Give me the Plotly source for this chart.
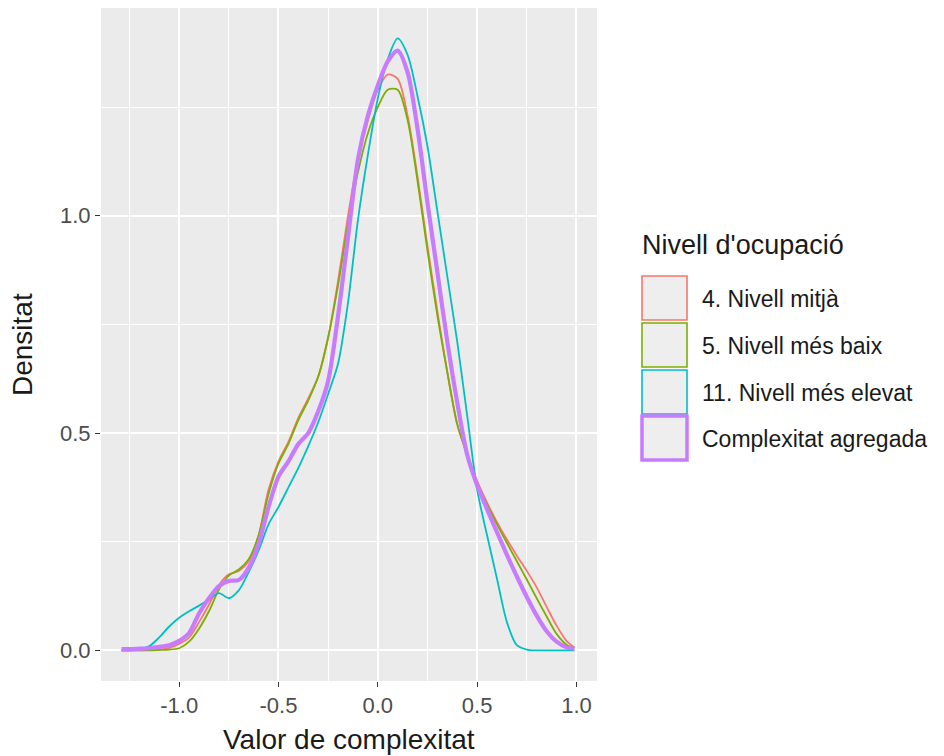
import plotly.graph_objects as go

# Shared x grid (Valor de complexitat)
x_vals = [-1.29, -1.25, -1.2, -1.15, -1.1, -1.05, -1.0, -0.95, -0.9, -0.85, -0.8,
          -0.75, -0.7, -0.65, -0.6, -0.55, -0.5, -0.45, -0.4, -0.35, -0.3, -0.25,
          -0.2, -0.15, -0.1, -0.05, 0.0, 0.05, 0.1, 0.15, 0.2, 0.25, 0.3, 0.35,
          0.4, 0.45, 0.5, 0.55, 0.6, 0.65, 0.7, 0.75, 0.8, 0.85, 0.9, 0.95, 0.99]

# Densities
dens_mitja = [0.0, 0.0, 0.0, 0.001, 0.002, 0.006, 0.015, 0.03, 0.065, 0.105, 0.15,
              0.175, 0.183, 0.205, 0.265, 0.37, 0.435, 0.48, 0.535, 0.58, 0.63, 0.72,
              0.85, 1.0, 1.13, 1.22, 1.29, 1.325, 1.315, 1.23, 1.09, 0.93, 0.78, 0.64,
              0.52, 0.45, 0.39, 0.34, 0.295, 0.255, 0.218, 0.183, 0.145, 0.1, 0.057, 0.022, 0.007]

dens_baix = [0.0, 0.0, 0.0, 0.0, 0.001, 0.002, 0.005, 0.02, 0.05, 0.09, 0.14,
             0.172, 0.186, 0.21, 0.265, 0.36, 0.43, 0.475, 0.53, 0.575, 0.63, 0.72,
             0.84, 0.98, 1.1, 1.19, 1.25, 1.29, 1.29, 1.22, 1.08, 0.92, 0.77, 0.64,
             0.52, 0.45, 0.385, 0.335, 0.29, 0.247, 0.205, 0.163, 0.12, 0.078, 0.038, 0.013, 0.005]

dens_elevat = [0.0, 0.0, 0.003, 0.01, 0.03, 0.055, 0.075, 0.09, 0.103, 0.117, 0.132,
               0.12, 0.138, 0.18, 0.23, 0.29, 0.33, 0.375, 0.42, 0.47, 0.525, 0.59,
               0.66, 0.8, 0.99, 1.14, 1.27, 1.36, 1.408, 1.37, 1.275, 1.16, 1.01, 0.86,
               0.71, 0.54, 0.37, 0.265, 0.165, 0.065, 0.012, 0.002, 0.0, 0.0, 0.0, 0.0, 0.0]

dens_agregada = [0.003, 0.003, 0.004, 0.005, 0.008, 0.012, 0.022, 0.04, 0.085, 0.12, 0.148,
                 0.16, 0.162, 0.19, 0.245, 0.33, 0.4, 0.435, 0.475, 0.5, 0.55, 0.62,
                 0.77, 0.95, 1.13, 1.23, 1.3, 1.355, 1.38, 1.33, 1.2, 1.03, 0.87, 0.71,
                 0.57, 0.45, 0.38, 0.325, 0.272, 0.22, 0.17, 0.123, 0.08, 0.044, 0.02, 0.007, 0.004]

series_names = ["4. Nivell mitjà", "5. Nivell més baix", "11. Nivell més elevat",
                "Complexitat agregada"]
series_vals = [dens_mitja, dens_baix, dens_elevat, dens_agregada]
colors = ["#F8766D", "#7CAE00", "#00BFC4", "#C77CFF"]
widths = [1.8, 1.8, 1.8, 4.2]

x_ticks = [-1.0, -0.5, 0.0, 0.5, 1.0]
x_ticktext = ["-1.0", "-0.5", "0.0", "0.5", "1.0"]
y_ticks = [0.0, 0.5, 1.0]
y_ticktext = ["0.0", "0.5", "1.0"]

FONT = "Liberation Sans, Arial, sans-serif"

fig = go.Figure()
for name, vals, col, w in zip(series_names, series_vals, colors, widths):
    fig.add_trace(go.Scatter(x=x_vals, y=vals, mode="lines", name=name,
                             line=dict(color=col, width=w, shape="spline", smoothing=0.8),
                             showlegend=False, hoverinfo="skip"))

# The page body has an 8px margin: work in page pixels, offset into the figure
OFF = 8
W, H = 944 - OFF, 756 - OFF
plot_l, plot_r, plot_t, plot_b = 101, 597, 8, 681   # page pixels of panel
ml = plot_l - OFF
mr = W - (plot_r - OFF)
mt = plot_t - OFF
mb = H - (plot_b - OFF)
pw, ph = W - ml - mr, H - mt - mb

def px(xp):
    return (xp - plot_l) / pw

def py(yp):
    return (plot_b - yp) / ph

shapes = []
annotations = []

# Legend (ggplot-style keys)
annotations.append(dict(text="Nivell d'ocupació", x=px(640), y=py(245), xref="paper",
                        yref="paper", xanchor="left", yanchor="middle", showarrow=False,
                        font=dict(family=FONT, size=27, color="#1A1A1A")))
box_tops = [276, 323, 370, 416]
box_h = 44
for name, col, top, w in zip(series_names, colors, box_tops, widths):
    lw = 3.5 if w > 3 else 1.6
    shapes.append(dict(type="rect", xref="paper", yref="paper",
                       x0=px(642), x1=px(687), y0=py(top), y1=py(top + box_h),
                       fillcolor="#EEEEEE", line=dict(color=col, width=lw)))
    annotations.append(dict(text=name, x=px(700), y=py(top + box_h / 2 + 1), xref="paper",
                            yref="paper", xanchor="left", yanchor="middle",
                            showarrow=False,
                            font=dict(family=FONT, size=23, color="#1A1A1A")))

# Axis titles
annotations.append(dict(text="Valor de complexitat", x=px(349), y=py(739), xref="paper",
                        yref="paper", xanchor="center", yanchor="middle", showarrow=False,
                        font=dict(family=FONT, size=28, color="#1A1A1A")))
annotations.append(dict(text="Densitat", x=px(22), y=py(345), xref="paper",
                        yref="paper", xanchor="center", yanchor="middle", showarrow=False,
                        textangle=-90,
                        font=dict(family=FONT, size=28, color="#1A1A1A")))

fig.update_layout(
    width=W, height=H,
    margin=dict(l=ml, r=mr, t=mt, b=mb, pad=0),
    paper_bgcolor="white",
    plot_bgcolor="#EBEBEB",
    showlegend=False,
    shapes=shapes,
    annotations=annotations,
    xaxis=dict(range=[-1.3935, 1.1035], tickvals=x_ticks, ticktext=x_ticktext,
               showgrid=True, gridcolor="white", gridwidth=1.6, zeroline=False,
               ticks="outside", ticklen=5, tickcolor="#333333", tickwidth=1.2,
               tickfont=dict(family=FONT, size=22, color="#4D4D4D"),
               minor=dict(tickvals=[-1.25, -0.75, -0.25, 0.25, 0.75], showgrid=True,
                          gridcolor="white", gridwidth=0.8, ticks=""),
               showline=False, fixedrange=True),
    yaxis=dict(range=[-0.0704, 1.478], tickvals=y_ticks, ticktext=y_ticktext,
               showgrid=True, gridcolor="white", gridwidth=1.6, zeroline=False,
               ticks="outside", ticklen=5, tickcolor="#333333", tickwidth=1.2,
               tickfont=dict(family=FONT, size=22, color="#4D4D4D"),
               minor=dict(tickvals=[0.25, 0.75, 1.25], showgrid=True,
                          gridcolor="white", gridwidth=0.8, ticks=""),
               showline=False, fixedrange=True),
)

fig.write_html("out.html")
